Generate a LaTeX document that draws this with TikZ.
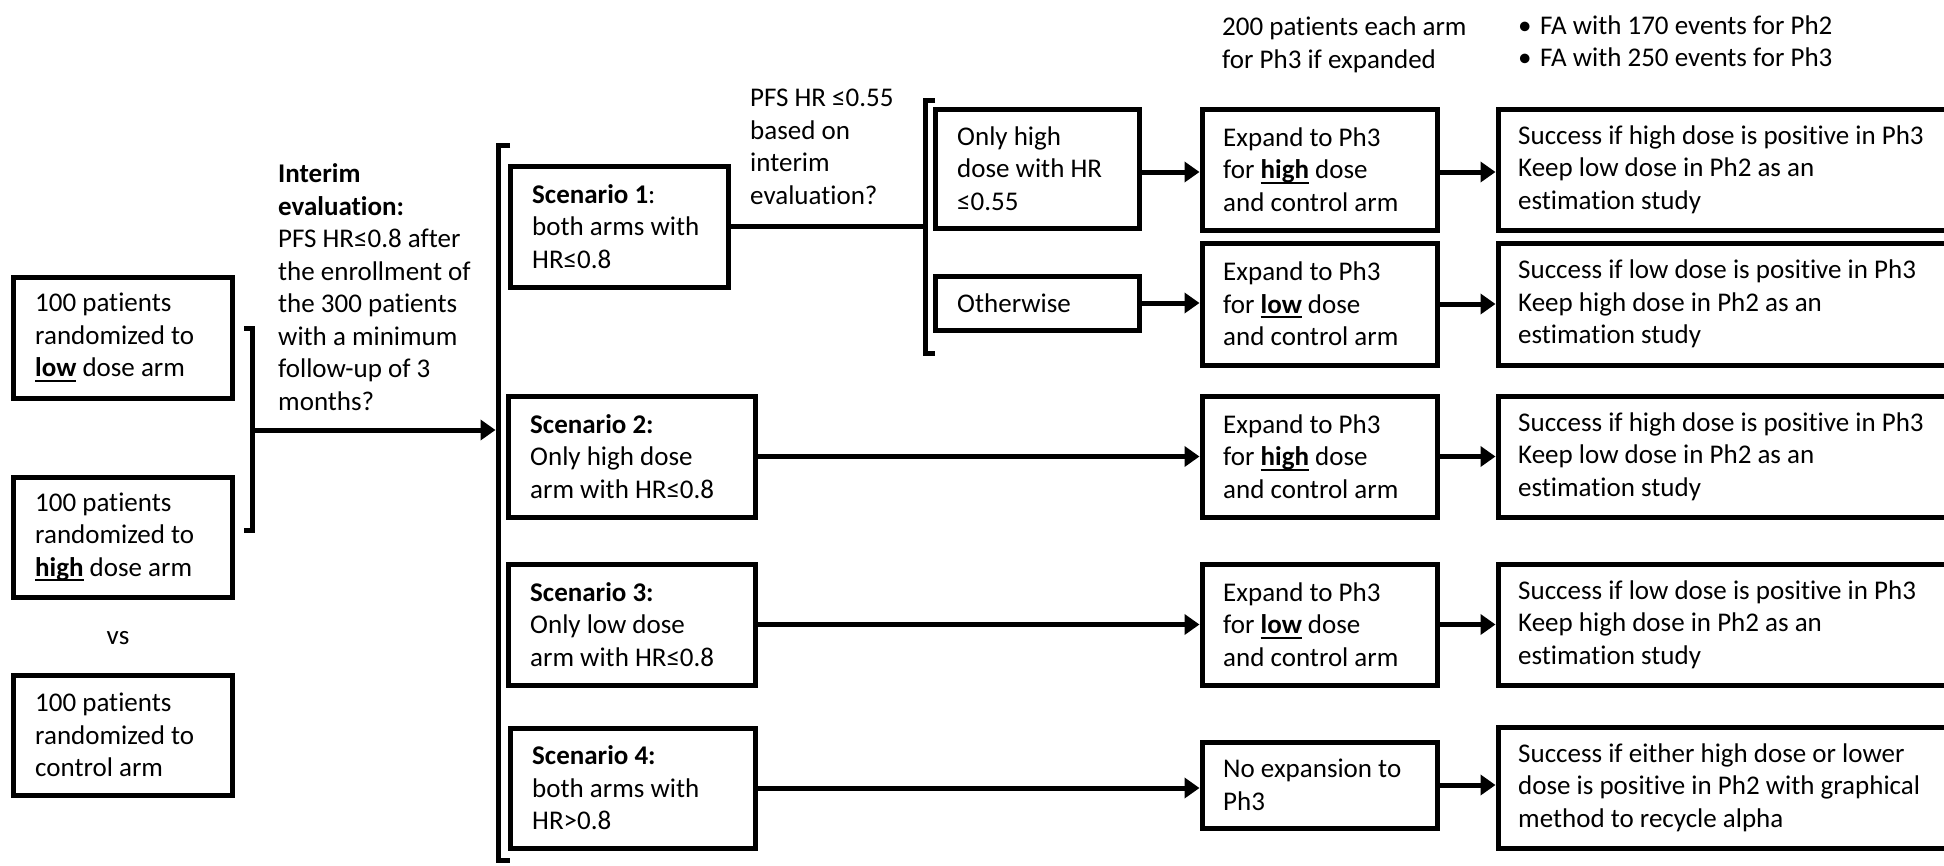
\documentclass[tikz,border=0pt]{standalone}
\usepackage{fontspec}
\setmainfont{Carlito}[Ligatures=NoCommon]
\usetikzlibrary{arrows.meta}
\newcommand\ulb[1]{\setbox0\hbox{\textbf{#1}}\rlap{\rule[-5pt]{\wd0}{1.8pt}}\box0\relax}
\tikzset{
  box/.style={draw, line width=5pt, rectangle, inner sep=0pt},
  txt/.style={inner sep=0pt, align=left, font=\fontsize{27}{32.5}\selectfont, text=black},
  arr/.style={line width=5pt, -{Triangle[length=15pt,width=20pt]}},
  ln/.style={line width=5pt},
  brk/.style={line width=5pt, line join=miter}
}
\newcommand\bx[7]{%
  \node[box, minimum width={(#4-#2)*1pt}, minimum height={(#5-#3)*1pt}] (#1) at ({(#2+#4)/2},{(#3+#5)/2}) {};
  \node[txt, anchor=west] (#1-t) at ({#2+#6},{(#3+#5)/2}) {#7};}
\begin{document}
\begin{tikzpicture}[x=1pt,y=-1pt]
\useasboundingbox (0,0) rectangle (1944,865);
\fill[white] (0,0) rectangle (1944,865);
\clip (0,0) rectangle (1944,865);

% left arm boxes
\bx{low}{13}{277}{232}{398}{22}{100 patients\\ randomized to\\ \ulb{low} dose arm}
\bx{high}{13}{477}{232}{597}{22}{100 patients\\ randomized to\\ \ulb{high} dose arm}
\node[txt] (vs) at (118,638) {vs};
\bx{ctrl}{13}{675}{232}{795}{22}{100 patients\\ randomized to\\ control arm}

% small bracket
\draw[brk] (244,328) -- (252,328) -- (252,530) -- (244,530);
\coordinate (sbr) at (254.5,430);
\coordinate (bbr) at (495.5,430);
\draw[arr] (sbr) -- (bbr);

\node[txt, anchor=west] (interim) at (278,287) {\textbf{Interim}\\ \textbf{evaluation:}\\ PFS HR≤0.8 after\\ the enrollment of\\ the 300 patients\\ with a minimum\\ follow-up of 3\\ months?};

% big bracket
\draw[brk] (510,145) -- (498,145) -- (498,860) -- (510,860);

% scenarios
\bx{sc1}{510}{166}{728}{287}{22}{\textbf{Scenario 1}:\\ both arms with\\ HR≤0.8}
\bx{sc2}{508}{396}{755}{517}{22}{\textbf{Scenario 2:}\\ Only high dose\\ arm with HR≤0.8}
\bx{sc3}{508}{564}{755}{685}{22}{\textbf{Scenario 3:}\\ Only low dose\\ arm with HR≤0.8}
\bx{sc4}{510}{728}{755}{848}{22}{\textbf{Scenario 4:}\\ both arms with\\ HR>0.8}

\node[txt, anchor=west] (pfs) at (750,147) {PFS HR ≤0.55\\ based on\\ interim\\ evaluation?};

% second bracket
\draw[brk] (935,100) -- (925,100) -- (925,353) -- (935,353);
\coordinate (br2) at (925,227);
\draw[ln] (sc1.east) -- (sc1.east -| br2);

\bx{oh}{935}{109}{1139}{228}{22}{Only high\\ dose with HR\\ ≤0.55}
\bx{ow}{935}{276}{1139}{330}{22}{Otherwise}

% expand column
\bx{e1}{1202}{109}{1437}{230}{21}{Expand to Ph3\\ for \ulb{high} dose\\ and control arm}
\bx{e2}{1202}{243}{1437}{365}{21}{Expand to Ph3\\ for \ulb{low} dose\\ and control arm}
\bx{e3}{1202}{396}{1437}{517}{21}{Expand to Ph3\\ for \ulb{high} dose\\ and control arm}
\bx{e4}{1202}{564}{1437}{685}{21}{Expand to Ph3\\ for \ulb{low} dose\\ and control arm}
\bx{e5}{1202}{742}{1437}{828}{21}{No expansion to\\ Ph3}

% result column
\bx{r1}{1498}{109}{1990}{230}{20}{Success if high dose is positive in Ph3\\ Keep low dose in Ph2 as an\\ estimation study}
\bx{r2}{1498}{243}{1990}{365}{20}{Success if low dose is positive in Ph3\\ Keep high dose in Ph2 as an\\ estimation study}
\bx{r3}{1498}{396}{1990}{517}{20}{Success if high dose is positive in Ph3\\ Keep low dose in Ph2 as an\\ estimation study}
\bx{r4}{1498}{564}{1990}{685}{20}{Success if low dose is positive in Ph3\\ Keep high dose in Ph2 as an\\ estimation study}
\bx{r5}{1498}{727}{1990}{848}{20}{Success if either high dose or lower\\ dose is positive in Ph2 with graphical\\ method to recycle alpha}

% top notes
\node[txt, anchor=west] (note1) at (1222,45) {200 patients each arm\\ for Ph3 if expanded};
\node[txt, anchor=west] (note2) at (1518,41) {\makebox[22pt][l]{•}FA with 170 events for Ph2\\ \makebox[22pt][l]{•}FA with 250 events for Ph3};

% arrows
\draw[arr] (oh.east |- 0,172) -- (e1.west |- 0,172);
\draw[arr] (ow.east) -- (ow.east -| e2.west);
\draw[arr] (sc2.east) -- (sc2.east -| e3.west);
\draw[arr] (sc3.east) -- (sc3.east -| e4.west);
\draw[arr] (sc4.east) -- (sc4.east -| e5.west);
\draw[arr] (e1.east |- 0,172) -- (r1.west |- 0,172);
\draw[arr] (e2.east |- 0,304) -- (r2.west |- 0,304);
\draw[arr] (e3.east) -- (e3.east -| r3.west);
\draw[arr] (e4.east) -- (e4.east -| r4.west);
\draw[arr] (e5.east) -- (e5.east -| r5.west);
\end{tikzpicture}
\end{document}
